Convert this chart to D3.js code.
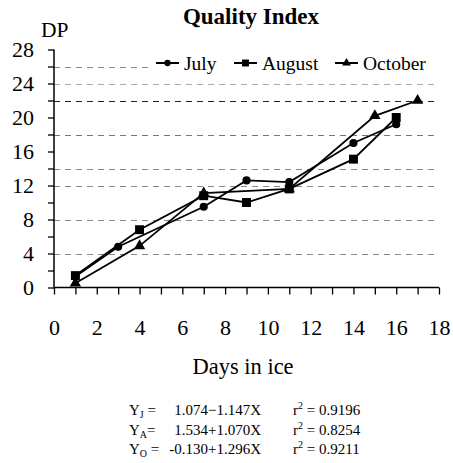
<!DOCTYPE html>
<html><head><meta charset="utf-8">
<script src="https://cdn.jsdelivr.net/npm/d3@7"></script>
<style>body{margin:0;background:#fff}svg{display:block}text{font-family:"Liberation Serif","Times New Roman",serif;fill:#000}</style>
</head><body><svg id="c" width="453" height="463"></svg>
<script>
const julyX = [1, 3, 7, 9, 11, 14, 16];
const julyY = [1.3, 4.8, 9.5, 12.6, 12.4, 17.0, 19.2];
const augustX = [1, 4, 7, 9, 11, 14, 16];
const augustY = [1.4, 6.8, 10.8, 10.0, 11.6, 15.1, 20.0];
const octoberX = [1, 4, 7, 11, 15, 17];
const octoberY = [0.5, 4.9, 11.1, 11.6, 20.2, 22.0];
const xTicks = [0, 2, 4, 6, 8, 10, 12, 14, 16, 18];
const yTicks = [0, 4, 8, 12, 16, 20, 24, 28];
const gridValues = [4, 8, 12, 14, 18, 22, 24, 26];
const gridColors = ["#888", "#888", "#888", "#888", "#777", "#222", "#aaa", "#888"];
const seriesNames = ["July", "August", "October"];
const equations = [
  {y: "Y", sub: "J", eq: "=", expr: "1.074\u22121.147X", r2: "0.9196"},
  {y: "Y", sub: "A", eq: "=", expr: "1.534+1.070X", r2: "0.8254"},
  {y: "Y", sub: "O", eq: "=", expr: "-0.130+1.296X", r2: "0.9211"}
];

const FONT = '"Liberation Serif","Times New Roman",serif';
const svg = d3.select("#c");
const x = d3.scaleLinear().domain([0, 18]).range([54, 439]);
const y = d3.scaleLinear().domain([0, 28]).range([287.5, 49.5]);

// gridlines
svg.append("g").selectAll("line").data(gridValues).join("line")
  .attr("x1", x(0)).attr("x2", x(18) - 1)
  .attr("y1", d => Math.round(y(d)) + 0.5).attr("y2", d => Math.round(y(d)) + 0.5)
  .attr("stroke", (d, i) => gridColors[i]).attr("stroke-width", 1)
  .attr("stroke-dasharray", "6,5");

// axes
const xAxis = d3.axisBottom(x).ticks(18).tickSize(7).tickFormat(d => xTicks.includes(d) ? d : "");
const gx = svg.append("g").attr("transform", `translate(0,${y(0)})`).call(xAxis).attr("font-family", FONT);
gx.select(".domain").attr("stroke", "#000").attr("stroke-width", 1.5).attr("d", `M${x(0)},0H${x(18)}`);
gx.selectAll(".tick line").attr("stroke", "#000").attr("stroke-width", 1.3);
gx.selectAll(".tick text").attr("font-size", 22).attr("y", 0).attr("dy", 0)
  .attr("transform", "translate(0,47)");

const yAxis = d3.axisLeft(y).tickValues(d3.range(0, 29, 2)).tickSize(6).tickFormat(d => yTicks.includes(d) ? d : "");
const gy = svg.append("g").attr("transform", `translate(${x(0)},0)`).call(yAxis).attr("font-family", FONT);
gy.select(".domain").attr("stroke", "#000").attr("stroke-width", 1.5).attr("d", `M0,${y(28)}V${y(0)}`);
gy.selectAll(".tick line").attr("stroke", "#000").attr("stroke-width", 1.3);
gy.selectAll(".tick text").attr("font-size", 22).attr("x", -20).attr("dy", "0.34em");

// legend background
svg.append("rect").attr("x", 150).attr("y", 52).attr("width", 292).attr("height", 22).attr("fill", "#fff");

// series
const series = [
  {name: "July", xs: julyX, ys: julyY, shape: d3.symbolCircle, size: 52},
  {name: "August", xs: augustX, ys: augustY, shape: d3.symbolSquare, size: 80},
  {name: "October", xs: octoberX, ys: octoberY, shape: d3.symbolTriangle, size: 56}
];
const line = d3.line().x(d => x(d[0])).y(d => y(d[1]));
series.forEach(s => {
  const pts = s.xs.map((v, i) => [v, s.ys[i]]);
  svg.append("path").attr("d", line(pts)).attr("fill", "none").attr("stroke", "#000").attr("stroke-width", 1.8);
  svg.append("g").selectAll("path").data(pts).join("path")
    .attr("transform", d => `translate(${x(d[0])},${y(d[1])})`)
    .attr("d", d3.symbol(s.shape, s.size)).attr("fill", "#000");
});

// legend
const legendX = [156, 234, 335];
series.forEach((s, i) => {
  const g = svg.append("g").attr("transform", `translate(${legendX[i]},63)`);
  g.append("line").attr("x1", 0).attr("x2", 23).attr("stroke", "#000").attr("stroke-width", 2);
  g.append("path").attr("transform", "translate(11.5,0)").attr("d", d3.symbol(s.shape, s.size * 0.6)).attr("fill", "#000");
  g.append("text").attr("x", 28).attr("y", 6.5).attr("font-size", 19.5).text(seriesNames[i]);
});

// title and labels
svg.append("text").attr("x", 251).attr("y", 24).attr("text-anchor", "middle").attr("font-size", 23).attr("font-weight", "bold").text("Quality Index");
svg.append("text").attr("x", 41).attr("y", 37).attr("font-size", 21.5).text("DP");
svg.append("text").attr("x", 243).attr("y", 374).attr("text-anchor", "middle").attr("font-size", 22.5).text("Days in ice");

// equations
const eqY = [415, 434.5, 453.5];
equations.forEach((e, i) => {
  const t = svg.append("text").attr("x", 129).attr("y", eqY[i]).attr("font-size", 15);
  t.append("tspan").text(e.y);
  t.append("tspan").attr("font-size", 10).attr("dy", 3).text(e.sub);
  t.append("tspan").attr("dy", -3).text(i === 1 ? "= " : " = ");
  svg.append("text").attr("x", 261).attr("y", eqY[i]).attr("font-size", 15).attr("text-anchor", "end").text(e.expr);
  const r = svg.append("text").attr("x", 293).attr("y", eqY[i]).attr("font-size", 15);
  r.append("tspan").text("r");
  r.append("tspan").attr("font-size", 10).attr("dy", -6).text("2");
  r.append("tspan").attr("dy", 6).text(" = " + e.r2);
});
</script></body></html>
